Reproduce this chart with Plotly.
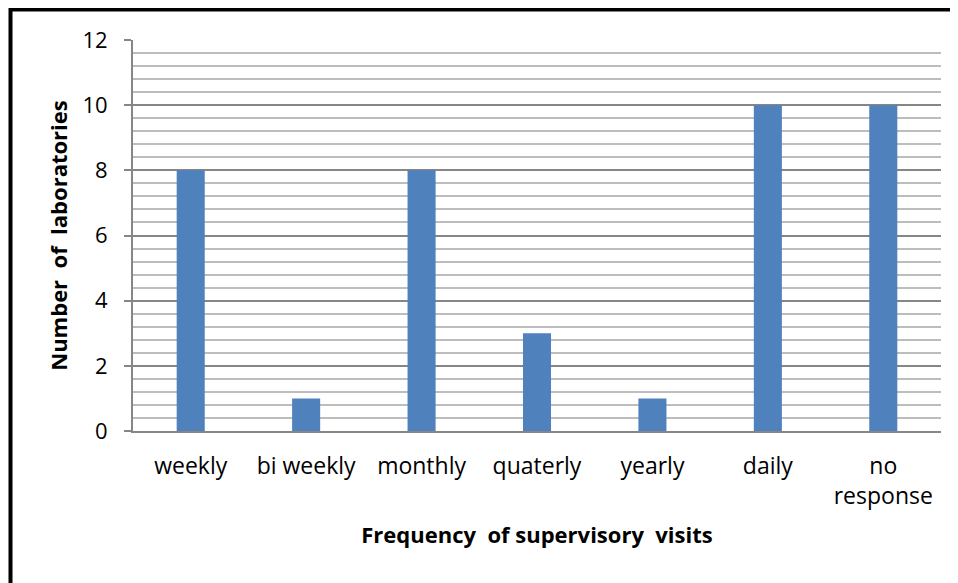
import plotly.graph_objects as go

categories = ["weekly", "bi weekly", "monthly", "quaterly", "yearly", "daily", "no<br>response"]
values = [8, 1, 8, 3, 1, 10, 10]
y_ticks = [0, 2, 4, 6, 8, 10, 12]

FONT = "Open Sans, Liberation Sans, sans-serif"

fig = go.Figure(go.Bar(x=categories, y=values, marker=dict(color="#4F81BD", line=dict(width=0))))

# page body has an 8px margin; work in figure pixels = screen pixels - 8
OFF = 8
W, H = 958 - OFF, 583 - OFF
L, R, T, B = 133 - OFF, 958 - 941, 40 - OFF, 583 - 431
pw, ph = W - L - R, H - T - B

def px_x(p):
    return (p - OFF - L) / pw

def px_y(p):
    return (H - B - (p - OFF)) / ph

fig.update_layout(
    width=W, height=H,
    margin=dict(l=L, r=R, t=T, b=B, pad=0),
    plot_bgcolor="white", paper_bgcolor="white",
    bargap=0.757,
    showlegend=False,
    font=dict(family=FONT, color="#000000"),
    xaxis=dict(
        showgrid=False, showline=True, linecolor="#868686", linewidth=2,
        ticks="", tickfont=dict(size=23, family=FONT), ticklabelstandoff=13,
        title=dict(text="<b>Frequency\u00a0 of supervisory\u00a0 visits</b>", font=dict(size=22, family=FONT), standoff=18),
    ),
    yaxis=dict(
        range=[0, 12], tickvals=y_ticks, showline=True, linecolor="#868686", linewidth=2,
        ticks="outside", ticklen=7, tickcolor="#868686", tickwidth=2,
        tickfont=dict(size=22, family=FONT), ticklabelstandoff=12,
        gridcolor="#868686", gridwidth=1.5, zeroline=False,
        minor=dict(dtick=0.4, showgrid=True, gridcolor="#BDBDBD", gridwidth=1.5, ticks=""),
        title=dict(text="<b>Number\u00a0 of\u00a0 laboratories</b>", font=dict(size=22, family=FONT), standoff=9),
    ),
    shapes=[dict(type="rect", xref="paper", yref="paper",
                 x0=px_x(10.5), x1=px_x(1000), y0=px_y(640), y1=px_y(9.5),
                 line=dict(color="black", width=4), fillcolor="rgba(0,0,0,0)", layer="above")],
)

fig.write_html("out.html")
